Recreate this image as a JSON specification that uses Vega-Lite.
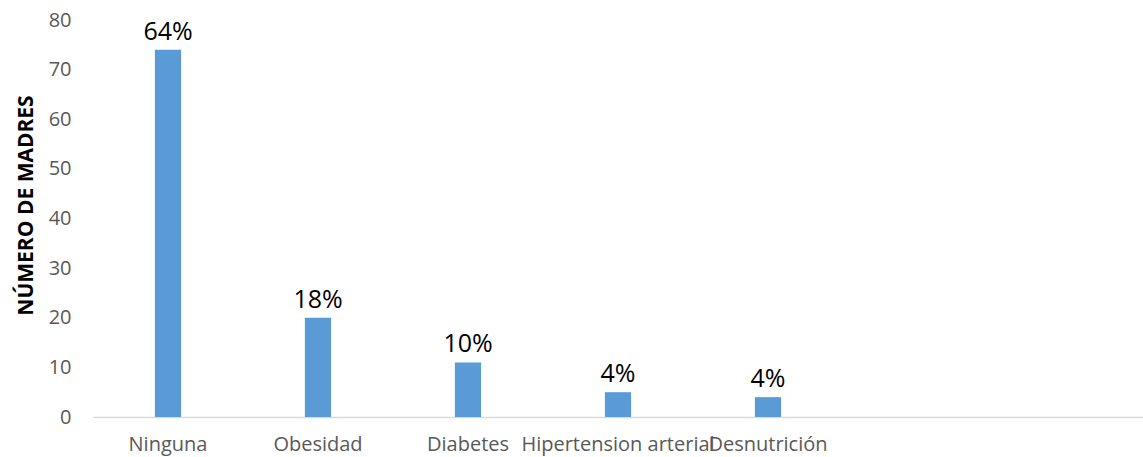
{
  "$schema": "https://vega.github.io/schema/vega-lite/v6.json",
  "autosize": "none",
  "width": 1050,
  "height": 397,
  "padding": {"left": 93, "top": 20, "right": 0, "bottom": 40},
  "background": "white",
  "config": {"view": {"stroke": null}, "font": "Open Sans"},
  "data": {
    "values": [
      {"cat": "Ninguna", "n": 74, "pct": "64%"},
      {"cat": "Obesidad", "n": 20, "pct": "18%"},
      {"cat": "Diabetes", "n": 11, "pct": "10%"},
      {"cat": "Hipertension arterial", "n": 5, "pct": "4%"},
      {"cat": "Desnutrición", "n": 4, "pct": "4%"}
    ]
  },
  "encoding": {
    "x": {
      "field": "cat",
      "type": "nominal",
      "sort": null,
      "scale": {
        "domain": ["Ninguna", "Obesidad", "Diabetes", "Hipertension arterial", "Desnutrición", "_e1", "_e2"],
        "paddingInner": 0,
        "paddingOuter": 0
      },
      "axis": {
        "title": null,
        "labelAngle": 0,
        "labelExpr": "indexof(datum.value, '_e') === 0 ? '' : datum.value",
        "labelOverlap": false,
        "labelLimit": 0,
        "labelFontSize": 20,
        "labelColor": "#595959",
        "labelFont": "Open Sans",
        "labelPadding": 17,
        "ticks": false,
        "domainColor": "#d9d9d9",
        "domainWidth": 1.5
      }
    },
    "y": {
      "field": "n",
      "type": "quantitative",
      "scale": {"domain": [0, 80]},
      "axis": {
        "title": "NÚMERO DE MADRES",
        "titleFontSize": 21,
        "titleFontWeight": "bold",
        "titleColor": "#000000",
        "titleFont": "Open Sans",
        "titlePadding": 12,
        "titleY": 185,
        "values": [0, 10, 20, 30, 40, 50, 60, 70, 80],
        "labelFontSize": 20,
        "labelColor": "#595959",
        "labelFont": "Open Sans",
        "labelPadding": 22,
        "grid": false,
        "ticks": false,
        "domain": false
      }
    }
  },
  "layer": [
    {
      "mark": {"type": "bar", "color": "#5b9bd5", "width": {"band": 0.175}}
    },
    {
      "mark": {"type": "text", "baseline": "bottom", "dy": -5, "fontSize": 25, "color": "#000000", "font": "Open Sans"},
      "encoding": {"text": {"field": "pct"}}
    }
  ]
}
